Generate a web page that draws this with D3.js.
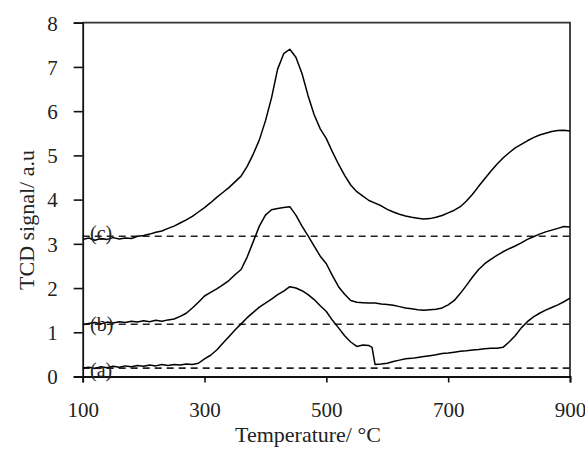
<!DOCTYPE html>
<html>
<head>
<meta charset="utf-8">
<script src="https://cdn.jsdelivr.net/npm/d3@7"></script>
<style>
  html, body { margin: 0; padding: 0; background: #fff; }
  svg { display: block; }
  text { font-family: "Liberation Serif", "Times New Roman", serif; fill: #222; }
</style>
</head>
<body>
<svg id="chart" width="585" height="450"></svg>
<script>
// Temperature grid (°C)
const temps = d3.range(100, 901, 10);
// curve (a) has an extra sample at 575 °C where its signal drops sharply
const tempsA = temps.slice(0, 48).concat([575], temps.slice(48));

// TCD signal, curve (a)
const seriesA = [0.19,0.21,0.18,0.22,0.20,0.23,0.21,0.24,0.22,0.25,
  0.23,0.26,0.24,0.27,0.25,0.27,0.26,0.28,0.27,0.30,
  0.40,0.48,0.60,0.75,0.90,1.05,1.19,1.33,1.45,1.57,
  1.66,1.75,1.85,1.93,2.03,2.00,1.94,1.85,1.74,1.60,
  1.47,1.27,1.10,0.92,0.78,0.68,0.71,0.70,0.66,0.27,0.28,
  0.30,0.34,0.37,0.40,0.41,0.43,0.45,0.47,0.49,0.52,
  0.53,0.55,0.57,0.58,0.60,0.61,0.63,0.64,0.64,0.66,
  0.78,0.92,1.10,1.24,1.35,1.43,1.50,1.56,1.62,1.69,1.77];

// TCD signal, curve (b)
const seriesB = [1.17,1.20,1.22,1.19,1.23,1.21,1.24,1.22,1.25,1.23,
  1.26,1.24,1.27,1.25,1.28,1.30,1.36,1.43,1.55,1.68,
  1.82,1.90,1.98,2.07,2.17,2.30,2.42,2.70,3.05,3.40,
  3.65,3.77,3.80,3.82,3.84,3.65,3.40,3.18,2.95,2.72,
  2.55,2.28,2.03,1.86,1.72,1.68,1.67,1.66,1.66,1.64,
  1.63,1.61,1.58,1.55,1.53,1.51,1.50,1.51,1.52,1.55,
  1.62,1.72,1.88,2.06,2.25,2.42,2.55,2.65,2.74,2.82,
  2.89,2.95,3.02,3.10,3.16,3.22,3.27,3.31,3.35,3.39,3.38];

// TCD signal, curve (c)
const seriesC = [3.10,3.13,3.08,3.12,3.10,3.14,3.11,3.13,3.12,3.17,
  3.19,3.22,3.26,3.29,3.35,3.40,3.47,3.54,3.62,3.72,
  3.82,3.93,4.05,4.16,4.27,4.40,4.53,4.75,5.03,5.35,
  5.78,6.30,6.95,7.30,7.40,7.22,6.85,6.35,5.92,5.60,
  5.38,5.08,4.80,4.55,4.33,4.18,4.08,3.98,3.92,3.86,
  3.78,3.72,3.67,3.63,3.60,3.58,3.56,3.57,3.60,3.64,
  3.70,3.76,3.84,3.97,4.12,4.30,4.47,4.64,4.80,4.94,
  5.06,5.17,5.25,5.33,5.40,5.46,5.50,5.54,5.56,5.57,5.55];

// Baselines (dashed) and curve labels
const curveLabels = ["(a)", "(b)", "(c)"];
const baselines = [0.19, 1.18, 3.17];

const xTicks = [100, 300, 500, 700, 900];
const yTicks = [0, 1, 2, 3, 4, 5, 6, 7, 8];

const svg = d3.select("#chart");
const L = 82.7, R = 570, T = 22.7, B = 376.5;
const x = d3.scaleLinear().domain([100, 900]).range([L, R]);
const y = d3.scaleLinear().domain([0, 8]).range([B, T]);

// frame (top and right)
svg.append("path")
  .attr("d", `M${L},${T}H${R}V${B}`)
  .attr("fill", "none").attr("stroke", "#333").attr("stroke-width", 1.8);

// dashed baselines
svg.selectAll("line.base").data(baselines).enter().append("line")
  .attr("class", "base")
  .attr("x1", x(100)).attr("x2", x(900))
  .attr("y1", d => y(d)).attr("y2", d => y(d))
  .attr("stroke", "#222").attr("stroke-width", 1.6)
  .attr("stroke-dasharray", "7,5");

// curves
const curves = [
  {t: tempsA, v: seriesA},
  {t: temps, v: seriesB},
  {t: temps, v: seriesC}
];
curves.forEach(c => {
  const line = d3.line().x((d, i) => x(c.t[i])).y(d => y(d));
  svg.append("path").datum(c.v)
    .attr("d", line)
    .attr("fill", "none").attr("stroke", "#000")
    .attr("stroke-width", 1.5).attr("stroke-linejoin", "round");
});

// axes
const xAxis = d3.axisBottom(x).tickValues(xTicks).tickSize(6).tickPadding(20).tickFormat(d3.format("d"));
const yAxis = d3.axisLeft(y).tickValues(yTicks).tickSize(9).tickPadding(16).tickFormat(d3.format("d"));

const gx = svg.append("g").attr("transform", `translate(0,${B})`).call(xAxis);
const gy = svg.append("g").attr("transform", `translate(${L},0)`).call(yAxis);
[gx, gy].forEach(g => {
  g.select(".domain").attr("stroke", "#111").attr("stroke-width", 1.8);
  g.selectAll(".tick line").attr("stroke", "#111").attr("stroke-width", 1.6);
  g.selectAll(".tick text").style("font-family", "'Liberation Serif', serif")
    .style("font-size", "21px").attr("fill", "#222");
});
gy.selectAll(".tick text").attr("dy", "0.35em");

// curve labels
const labelY = [377, 331, 240];
svg.selectAll("text.lab").data(curveLabels).enter().append("text")
  .attr("class", "lab")
  .attr("x", 90).attr("y", (d, i) => labelY[i])
  .style("font-size", "20px")
  .text(d => d);

// axis titles
svg.append("text")
  .attr("x", 308).attr("y", 442)
  .attr("text-anchor", "middle")
  .style("font-size", "22px")
  .text("Temperature/ °C");

svg.append("text")
  .attr("transform", "translate(34,220) rotate(-90)")
  .attr("text-anchor", "middle")
  .style("font-size", "22px")
  .text("TCD signal/ a.u");
</script>
</body>
</html>
